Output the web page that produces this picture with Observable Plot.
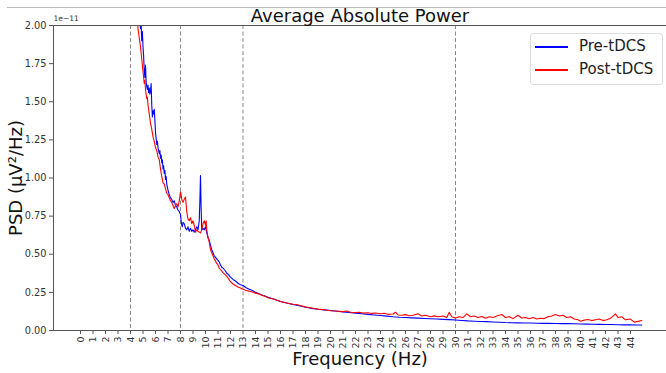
<!DOCTYPE html>
<html>
<head>
<meta charset="utf-8">
<script src="https://cdn.jsdelivr.net/npm/d3@7"></script>
<script src="https://cdn.jsdelivr.net/npm/@observablehq/plot@0.6"></script>
<style>
  html, body { margin: 0; padding: 0; background: #fff; }
  #wrap { position: relative; width: 666px; height: 373px; overflow: hidden; font-family: "DejaVu Sans", sans-serif; }
  #topline { position: absolute; left: 7px; right: 0; top: 7px; height: 1px; background: #bbb; }
  #legend { position: absolute; left: 530px; top: 33px; width: 131px; height: 50px; border: 1px solid #ddd; border-radius: 3px; background: rgba(255,255,255,0.8); font-size: 15px; color: #222; }
  .lg { position: absolute; left: 4px; height: 1.5px; width: 33px; }
  .lt { position: absolute; left: 48px; line-height: 15px; }
</style>
</head>
<body>
<div id="wrap">
  <div id="topline"></div>
</div>
<script>
// Units: 1e-11 µV²/Hz
const preFreq = [4.4,4.6,4.7,4.8,4.85,4.9,4.95,5.0,5.05,5.1,5.15,5.2,5.25,5.3,5.35,5.4,5.45,5.5,5.55,5.6,5.65,5.7,5.75,5.8,5.85,5.9,5.95,6.0,6.05,6.1,6.15,6.2,6.3,6.35,6.4,6.45,6.5,6.55,6.6,6.65,6.7,6.75,6.8,6.85,6.9,7.0,7.1,7.2,7.3,7.4,7.5,7.6,7.7,7.8,7.9,8.0,8.05,8.1,8.15,8.2,8.3,8.4,8.5,8.6,8.7,8.8,8.9,9.0,9.1,9.2,9.3,9.4,9.5,9.55,9.6,9.65,9.7,9.8,9.9,10.0,10.1,10.2,10.3,10.4,10.5,10.6,10.7,10.8,10.9,11.0,11.1,11.2,11.3,11.4,11.5,11.6,11.7,11.8,11.9,12.0,12.2,12.4,12.6,12.8,13.0,13.25,13.5,13.75,14.0,14.25,14.5,14.75,15.0,15.5,16.0,16.5,17.0,17.5,18.0,18.5,19.0,19.5,20.0,20.5,21.0,21.5,22.0,22.5,23.0,23.5,24.0,24.5,25.0,25.5,26.0,26.5,27.0,27.5,28.0,28.5,29.0,29.5,30.0,30.5,31.0,31.5,32.0,32.5,33.0,33.5,34.0,34.5,35.0,35.5,36.0,36.5,37.0,37.5,38.0,38.5,39.0,39.5,40.0,40.5,41.0,41.5,42.0,42.5,43.0,43.5,44.0,44.5,44.9];
const preVal = [2.5,2.2,2.10,1.98,2.02,1.90,1.96,1.86,1.80,1.70,1.66,1.74,1.63,1.60,1.58,1.61,1.56,1.59,1.55,1.57,1.62,1.48,1.40,1.44,1.42,1.45,1.38,1.30,1.26,1.22,1.24,1.20,1.16,1.18,1.13,1.15,1.10,1.12,1.06,1.08,1.03,1.05,0.99,1.01,0.96,0.92,0.89,0.87,0.86,0.84,0.85,0.82,0.81,0.79,0.78,0.76,0.72,0.69,0.68,0.71,0.70,0.67,0.66,0.68,0.65,0.67,0.65,0.66,0.645,0.66,0.68,0.66,0.72,0.85,1.016,0.80,0.66,0.67,0.66,0.68,0.64,0.61,0.59,0.56,0.53,0.51,0.49,0.48,0.47,0.46,0.45,0.43,0.415,0.41,0.40,0.39,0.375,0.37,0.36,0.35,0.335,0.325,0.31,0.30,0.295,0.28,0.27,0.262,0.25,0.243,0.233,0.226,0.218,0.205,0.19,0.18,0.17,0.162,0.152,0.145,0.139,0.135,0.131,0.126,0.122,0.118,0.114,0.110,0.106,0.102,0.098,0.094,0.090,0.087,0.085,0.083,0.081,0.079,0.077,0.075,0.073,0.071,0.069,0.066,0.063,0.061,0.059,0.058,0.056,0.054,0.052,0.051,0.050,0.049,0.049,0.048,0.047,0.047,0.046,0.045,0.045,0.044,0.043,0.042,0.041,0.040,0.039,0.039,0.038,0.037,0.037,0.036,0.036];

const postFreq = [4.3,4.5,4.6,4.7,4.8,4.9,5.0,5.1,5.15,5.2,5.3,5.35,5.4,5.5,5.6,5.7,5.8,5.9,6.0,6.1,6.2,6.3,6.4,6.5,6.6,6.7,6.8,6.9,7.0,7.1,7.2,7.3,7.4,7.5,7.6,7.7,7.8,7.9,8.0,8.05,8.1,8.2,8.3,8.4,8.5,8.6,8.7,8.8,8.9,9.0,9.1,9.2,9.3,9.4,9.5,9.6,9.7,9.8,9.9,10.0,10.05,10.1,10.2,10.3,10.4,10.5,10.6,10.7,10.8,10.9,11.0,11.1,11.2,11.4,11.6,11.8,12.0,12.2,12.4,12.6,12.8,13.0,13.25,13.5,13.75,14.0,14.25,14.5,14.75,15.0,15.5,16.0,16.5,17.0,17.3,17.5,18.0,18.5,19.0,19.5,20.0,20.5,21.0,21.3,21.6,22.0,22.3,22.6,23.0,23.3,23.6,24.0,24.3,24.6,25.0,25.2,25.4,25.7,26.0,26.3,26.6,27.0,27.3,27.6,28.0,28.3,28.6,29.0,29.3,29.5,29.7,30.0,30.3,30.6,30.9,31.2,31.5,31.8,32.1,32.4,32.7,33.0,33.3,33.7,34.0,34.3,34.6,35.0,35.3,35.6,35.9,36.2,36.5,36.8,37.1,37.4,37.7,38.0,38.3,38.6,38.9,39.2,39.5,39.8,40.0,40.3,40.6,40.9,41.2,41.5,41.8,42.1,42.4,42.8,43.0,43.3,43.6,44.0,44.3,44.6,44.9];
const postVal = [2.4,2.1,1.98,1.92,1.86,1.78,1.70,1.62,1.64,1.58,1.52,1.53,1.48,1.42,1.36,1.32,1.27,1.24,1.20,1.18,1.14,1.12,1.06,1.01,0.97,0.96,0.93,0.90,0.89,0.87,0.85,0.84,0.82,0.80,0.82,0.83,0.81,0.85,0.91,0.89,0.86,0.84,0.86,0.875,0.78,0.73,0.72,0.74,0.70,0.72,0.69,0.645,0.66,0.65,0.645,0.64,0.66,0.70,0.72,0.69,0.72,0.66,0.61,0.58,0.53,0.51,0.49,0.47,0.455,0.44,0.43,0.41,0.40,0.38,0.365,0.345,0.32,0.305,0.295,0.285,0.278,0.27,0.262,0.258,0.252,0.245,0.24,0.232,0.225,0.215,0.205,0.19,0.18,0.172,0.17,0.165,0.155,0.148,0.14,0.136,0.13,0.128,0.124,0.128,0.12,0.118,0.12,0.114,0.116,0.112,0.115,0.11,0.113,0.106,0.108,0.12,0.102,0.10,0.104,0.097,0.10,0.11,0.095,0.10,0.09,0.096,0.09,0.095,0.085,0.12,0.09,0.082,0.09,0.085,0.109,0.09,0.095,0.085,0.092,0.08,0.09,0.085,0.095,0.105,0.085,0.09,0.078,0.10,0.082,0.085,0.077,0.085,0.075,0.08,0.078,0.09,0.095,0.105,0.095,0.10,0.085,0.09,0.075,0.07,0.061,0.068,0.072,0.065,0.07,0.075,0.065,0.07,0.08,0.109,0.085,0.09,0.07,0.075,0.055,0.06,0.066];

const bandEdges = [4, 8, 13, 30];
const xTicks = d3.range(0, 45);
const yTicks = [0, 0.25, 0.5, 0.75, 1.0, 1.25, 1.5, 1.75, 2.0];
const seriesNames = ["Pre-tDCS", "Post-tDCS"];
const seriesColors = ["#0000ff", "#ff0000"];
const titleText = "Average Absolute Power";
const xLabel = "Frequency (Hz)";
const yLabel = "PSD (μV²/Hz)";
const offsetText = "1e\u221211";

const pre = preFreq.map((f, i) => ({f, v: preVal[i]}));
const post = postFreq.map((f, i) => ({f, v: postVal[i]}));

const chart = Plot.plot({
  width: 666,
  height: 373,
  marginLeft: 53,
  marginRight: 0,
  marginTop: 25,
  marginBottom: 43,
  style: {fontFamily: "DejaVu Sans, sans-serif", background: "transparent", color: "#333"},
  x: {domain: [-2.16, 46.88]},
  y: {domain: [0, 2]},
  marks: [
    Plot.ruleX(bandEdges, {stroke: "#888", strokeWidth: 1, strokeDasharray: "4,2.5"}),
    Plot.line(pre, {x: "f", y: "v", stroke: seriesColors[0], strokeWidth: 1.1, clip: true}),
    Plot.line(post, {x: "f", y: "v", stroke: seriesColors[1], strokeWidth: 1.1, clip: true}),
    Plot.axisY({ticks: yTicks, tickFormat: d3.format(".2f"), tickSize: 4, tickPadding: 3, fontSize: 9.8, label: null, stroke: "#555"}),
    Plot.axisX({ticks: xTicks, tickFormat: d => String(d), tickSize: 4, tickPadding: 2, tickRotate: -90, fontSize: 9.5, label: null, stroke: "#555"}),
    Plot.frame({anchor: "left", stroke: "#555"}),
    Plot.frame({anchor: "bottom", stroke: "#555"}),
    Plot.frame({anchor: "top", stroke: "#555"}),
    Plot.text([titleText], {frameAnchor: "top", dy: -9, fontSize: 18, fill: "#111", lineAnchor: "middle"}),
    Plot.text([offsetText], {frameAnchor: "top-left", textAnchor: "start", dy: -5, lineAnchor: "bottom", fontSize: 7.5, fill: "#333"}),
    Plot.text([xLabel], {frameAnchor: "bottom", dy: 29, lineAnchor: "middle", fontSize: 18, fill: "#111"}),
    Plot.text([yLabel], {frameAnchor: "left", dx: -37, rotate: -90, textAnchor: "middle", lineAnchor: "middle", fontSize: 18, fill: "#111"})
  ]
});

const wrap = document.getElementById("wrap");
wrap.appendChild(chart);
chart.style.position = "absolute";
chart.style.left = "0";
chart.style.top = "0";

const legend = document.createElement("div");
legend.id = "legend";
seriesNames.forEach((name, i) => {
  const ln = document.createElement("div");
  ln.className = "lg";
  ln.style.top = (12 + i * 23) + "px";
  ln.style.background = seriesColors[i];
  legend.appendChild(ln);
  const t = document.createElement("div");
  t.className = "lt";
  t.style.top = (5 + i * 23) + "px";
  t.textContent = name;
  legend.appendChild(t);
});
wrap.appendChild(legend);
</script>
</body>
</html>
